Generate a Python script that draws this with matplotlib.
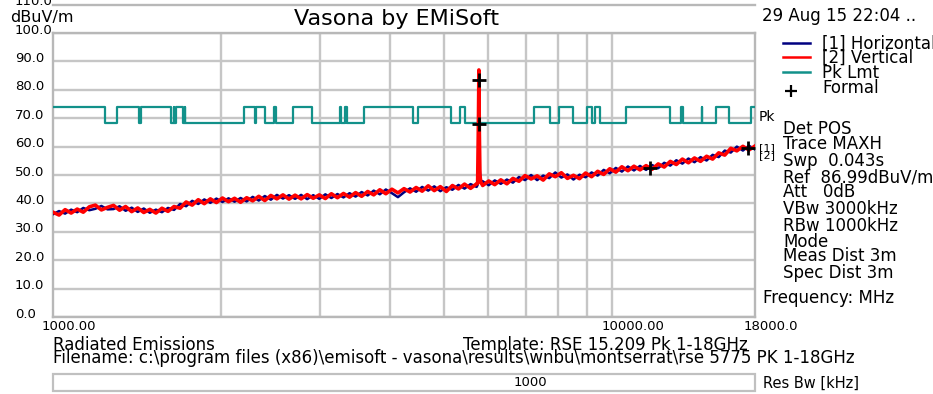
import numpy as np
import matplotlib.pyplot as plt
import matplotlib.transforms as mtransforms
from matplotlib.patches import Rectangle

# Sweep 1-18 GHz, levels in dBuV/m
f_start, f_stop = 1000.0, 18000.0
n_pts = 117

horiz_dbuv = [
    36.2, 37.3, 36.4, 37.8, 36.9, 38.4, 37.6, 38.1, 39.1, 37.9,
    38.0, 39.0, 37.4, 38.5, 37.0, 38.2, 36.7, 37.8, 36.9, 38.4,
    37.7, 39.8, 39.0, 40.9, 39.8, 41.4, 40.2, 41.7, 40.5, 41.8,
    40.6, 41.9, 40.7, 42.3, 41.0, 42.6, 41.3, 43.0, 41.7, 42.9,
    41.6, 43.0, 41.5, 42.9, 41.6, 43.2, 41.9, 43.3, 42.1, 43.6,
    42.4, 44.0, 42.8, 44.5, 43.2, 44.9, 43.6, 42.2, 43.9, 45.3,
    44.1, 45.8, 44.5, 46.0, 44.3, 45.7, 44.8, 46.5, 45.2, 46.8,
    45.8, 47.8, 46.4, 48.1, 46.9, 48.4, 47.3, 49.3, 48.2, 50.0,
    48.2, 49.8, 48.9, 50.9, 49.1, 50.2, 48.4, 50.1, 49.2, 50.9,
    49.8, 51.8, 50.6, 52.5, 51.2, 53.0, 51.6, 53.2, 51.8, 53.5,
    52.4, 54.3, 53.3, 55.2, 54.0, 55.8, 54.5, 56.3, 55.1, 57.1,
    56.3, 58.6, 57.9, 60.0, 58.6, 60.3, 59.0,
]
vert_dbuv = [
    36.9, 35.9, 37.8, 36.6, 38.0, 36.9, 38.8, 39.4, 37.7, 38.6,
    39.3, 37.6, 38.9, 37.1, 38.4, 36.8, 37.9, 36.6, 38.3, 37.2,
    38.9, 38.3, 40.5, 39.4, 41.3, 39.9, 41.6, 40.3, 41.9, 40.6,
    41.8, 40.4, 42.0, 40.9, 42.5, 41.0, 42.8, 41.6, 43.0, 41.5,
    42.9, 41.6, 43.1, 41.8, 43.0, 41.7, 43.4, 42.0, 43.5, 42.2,
    43.8, 42.5, 44.2, 43.0, 44.8, 43.4, 45.0, 43.7, 45.2, 44.0,
    45.6, 44.3, 46.2, 44.5, 45.9, 44.2, 46.3, 45.1, 46.8, 45.3,
    46.9, 46.3, 47.9, 46.6, 48.3, 46.9, 48.8, 47.8, 49.8, 48.6,
    49.7, 48.2, 50.4, 49.4, 50.8, 48.8, 49.9, 48.7, 50.7, 49.4,
    51.3, 50.2, 52.2, 51.0, 52.9, 51.5, 53.1, 51.8, 53.3, 52.0,
    53.9, 52.8, 54.8, 53.7, 55.6, 54.3, 56.0, 54.8, 56.6, 55.6,
    57.8, 57.0, 59.4, 58.5, 60.1, 58.8, 60.2,
]

# 5775 MHz carrier
spike_mhz = [5745, 5765, 5775, 5785, 5800, 5820]
spike_horiz = [46.5, 55.0, 58.5, 54.0, 51.0, 48.0]
spike_vert = [47.0, 70.0, 86.99, 66.0, 50.0, 47.5]

# formal measurement points
formal_mhz = [5775, 5775, 11680, 17490]
formal_dbuv = [83.6, 68.1, 52.6, 59.6]

# 15.205 restricted bands (MHz) -> 74 dBuV/m, elsewhere 68.2
restricted_bands = [
    (960, 1240), (1300, 1427), (1435, 1626.5), (1645.5, 1646.5),
    (1660, 1710), (1718.8, 1722.2), (2200, 2300), (2310, 2390),
    (2483.5, 2500), (2690, 2900), (3260, 3267), (3332, 3339),
    (3345.8, 3358), (3600, 4400), (4500, 5150), (5350, 5460),
    (7250, 7750), (8025, 8500), (9000, 9200), (9300, 9500),
    (10600, 12700), (13250, 13400), (14470, 14500), (15350, 16200),
    (17700, 21400),
]
lmt_restricted, lmt_other = 74.0, 68.2

y_ticks = [0, 10, 20, 30, 40, 50, 60, 70, 80, 90, 100]
x_grid = [2000, 3000, 4000, 5000, 6000, 7000, 8000, 9000, 10000]
x_labels = {1000: "1000.00", 10000: "10000.00", 18000: "18000.0"}

setup_lines = ["Det POS", "Trace MAXH", "Swp  0.043s", "Ref  86.99dBuV/m",
               "Att   0dB", "VBw 3000kHz", "RBw 1000kHz", "Mode",
               "Meas Dist 3m", "Spec Dist 3m"]
setup_y = [129, 144, 161, 177, 192, 209, 226, 242, 256, 273]

# merge sweep grid with the carrier points
sweep = np.geomspace(f_start, f_stop, n_pts)
freq = np.concatenate([sweep, spike_mhz])
order = np.argsort(freq)
freq = freq[order]
horiz = np.concatenate([horiz_dbuv, spike_horiz])[order]
vert = np.concatenate([vert_dbuv, spike_vert])[order]

# limit as a step line over band edges
edges = sorted({f_start, f_stop} | {e for b in restricted_bands for e in b
                                    if f_start < e < f_stop})
lmt = []
for a, b in zip(edges[:-1], edges[1:]):
    mid = 0.5 * (a + b)
    inside = any(lo <= mid <= hi for lo, hi in restricted_bands)
    lmt.append(lmt_restricted if inside else lmt_other)
lmt.append(lmt[-1])

grid_c = "#c6c6c6"
teal = "#12918a"

fig = plt.figure(figsize=(9.33, 3.94), dpi=100)
ax = fig.add_axes([53 / 933, 1 - 317 / 394, 702 / 933, 284 / 394])
ax.set_xscale("log")
ax.set_xlim(f_start, f_stop)
ax.set_ylim(0, 100)
ax.set_xticks(x_grid)
ax.set_yticks(y_ticks)
ax.xaxis.set_minor_locator(plt.NullLocator())
ax.tick_params(which="both", length=0, labelbottom=False, labelleft=False)
ax.grid(True, color=grid_c, lw=1.7)
ax.set_axisbelow(True)
for s in ax.spines.values():
    s.set_color("#b8b8b8")
    s.set_linewidth(1.7)

ax.step(edges, lmt, where="post", color=teal, lw=1.6, zorder=3)
ax.plot(freq, horiz, color="#000080", lw=1.8, zorder=4)
ax.plot(freq, vert, color="#ff0000", lw=2.6, zorder=5)
ax.plot(formal_mhz, formal_dbuv, ls="none", marker="+", ms=10, mew=2,
        color="black", zorder=6)

# 110 dB line above the plot
ax.plot([f_start, f_stop], [110, 110], color="#b8b8b8", lw=1.7, clip_on=False)

# tick labels: left-aligned, slightly raised
ylab_tr = mtransforms.offset_copy(
    mtransforms.blended_transform_factory(fig.transFigure, ax.transData),
    fig=fig, x=0, y=3, units="dots")
for v in y_ticks + [110]:
    ax.text(15 / 933, v, f"{v:.1f}", transform=ylab_tr, ha="left",
            va="center", fontsize=9.5, clip_on=False)
xlab_tr = mtransforms.offset_copy(
    mtransforms.blended_transform_factory(ax.transData, fig.transFigure),
    fig=fig, x=-11, y=0, units="dots")
for f, lab in x_labels.items():
    ax.text(f, 1 - 327 / 394, lab, transform=xlab_tr, ha="left",
            va="center", fontsize=9.5, clip_on=False)

# annotation layer in pixel units
ov = fig.add_axes([0, 0, 1, 1])
ov.set_xlim(0, 933)
ov.set_ylim(394, 0)
ov.axis("off")

ov.text(10, 17, "dBuV/m", fontsize=11.5, va="center")
ov.text(396, 19, "Vasona by EMiSoft", fontsize=16, ha="center", va="center")
ov.text(762, 16, "29 Aug 15 22:04 ..", fontsize=12, va="center")

legend = [("[1] Horizontal", "#000080", 43), ("[2] Vertical", "#ff0000", 57),
          ("Pk Lmt", teal, 72)]
for lab, c, y in legend:
    ov.plot([783, 810], [y, y], color=c, lw=1.8)
    ov.text(822, y + 1, lab, fontsize=12, va="center")
ov.plot([791], [91], marker="+", ms=9, mew=1.6, color="black")
ov.text(822, 88, "Formal", fontsize=12, va="center")

ov.text(759, 117, "Pk", fontsize=10, va="center")
ov.text(759, 148, "[1]", fontsize=8, va="center")
ov.text(759, 155, "[2]", fontsize=8, va="center")
for lab, y in zip(setup_lines, setup_y):
    ov.text(783, y, lab, fontsize=12, va="center")
ov.text(763, 298, "Frequency: MHz", fontsize=12, va="center")

ov.text(53, 345, "Radiated Emissions", fontsize=12, va="center")
ov.text(463, 345, "Template: RSE 15.209 Pk 1-18GHz", fontsize=12, va="center")
ov.text(53, 358, "Filename: c:\\program files (x86)\\emisoft - vasona\\results"
        "\\wnbu\\montserrat\\rse 5775 PK 1-18GHz", fontsize=12, va="center")

ov.add_patch(Rectangle((53, 374), 702, 17, facecolor="white",
                       edgecolor="#c0c0c0", lw=1.6))
ov.text(530, 383, "1000", fontsize=9.5, ha="center", va="center")
ov.text(763, 383, "Res Bw [kHz]", fontsize=10.5, va="center")

fig.savefig("out.png", dpi=100)
